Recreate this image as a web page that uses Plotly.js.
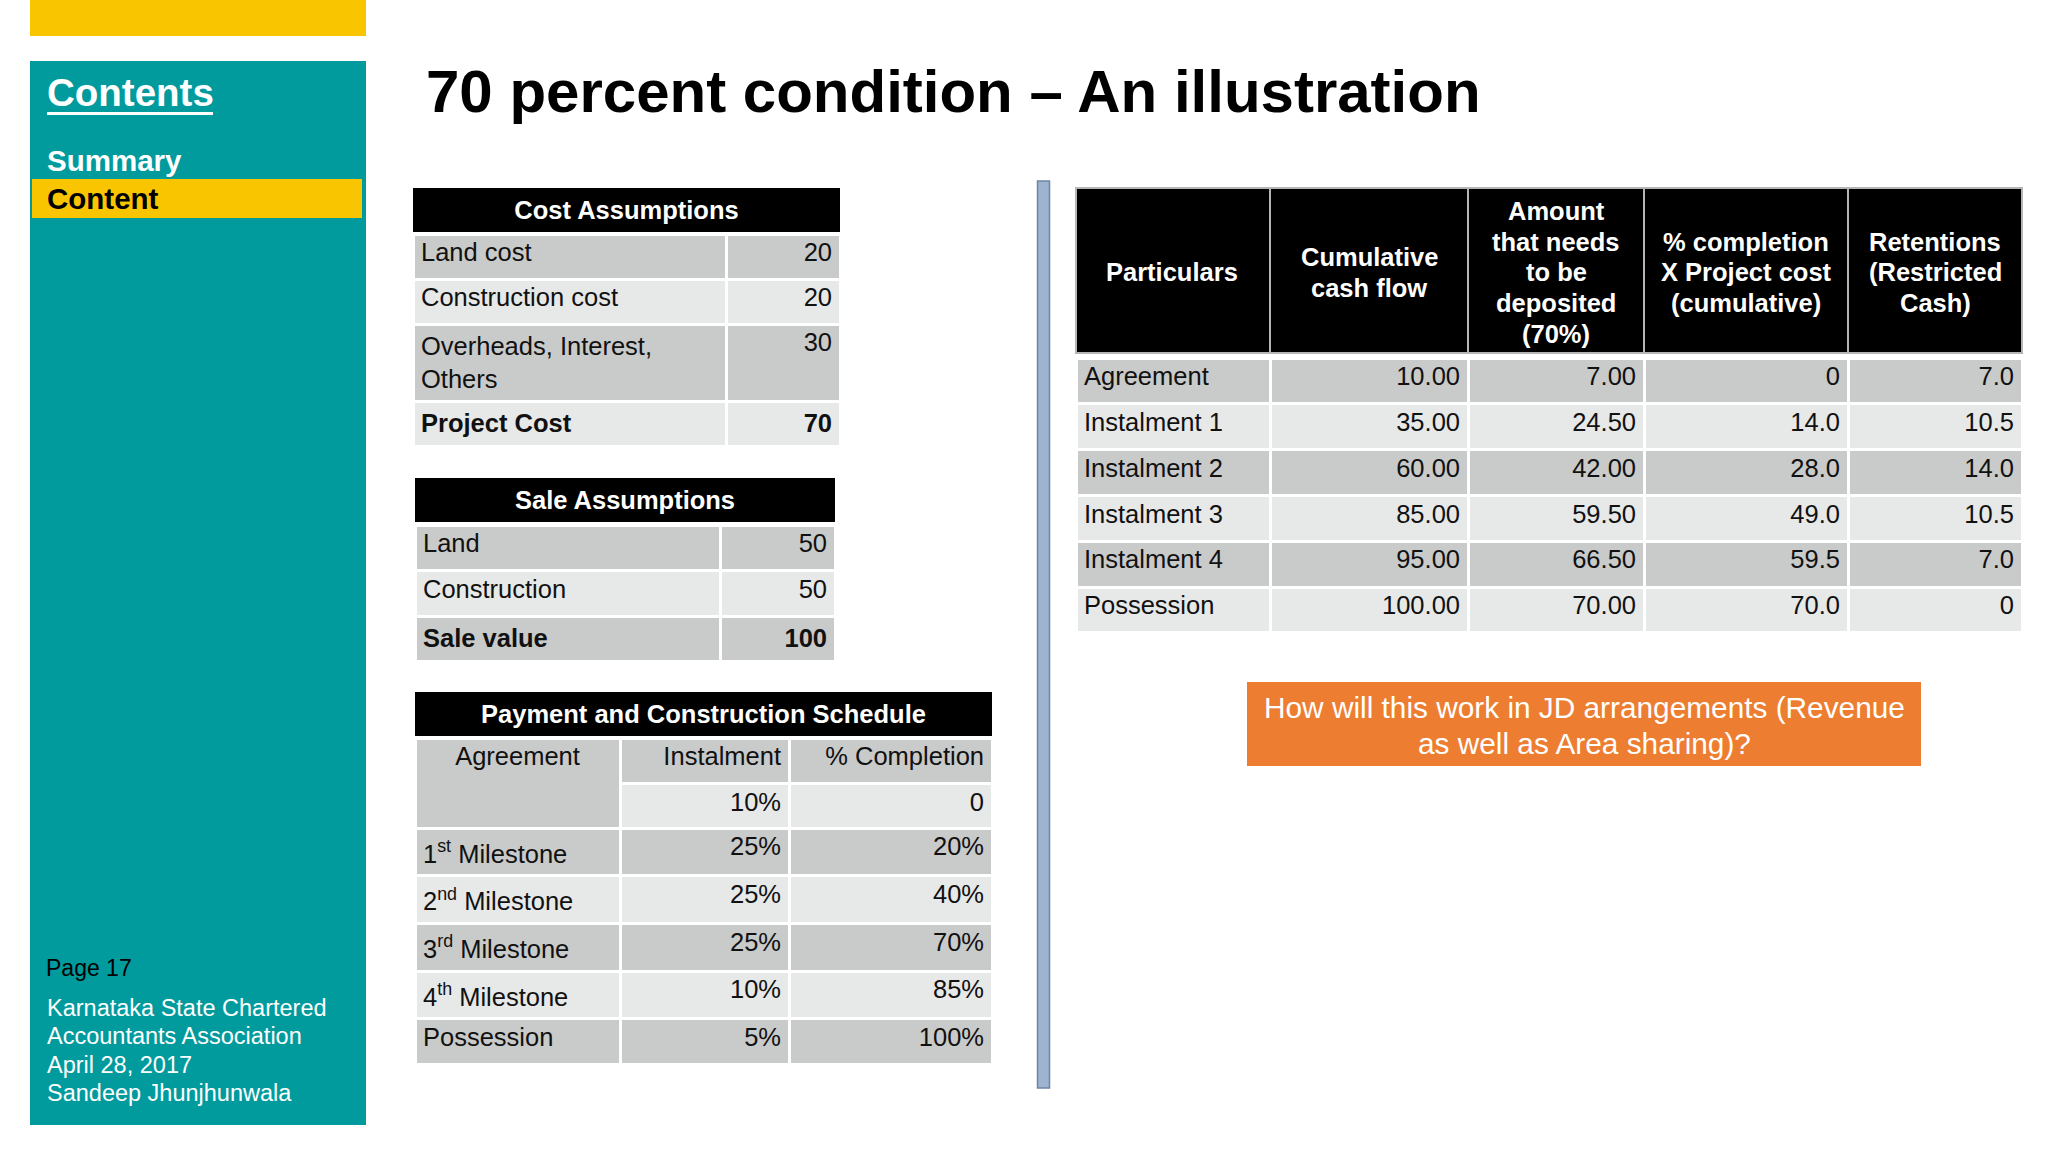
<!DOCTYPE html>
<html><head><meta charset="utf-8">
<script src="https://cdn.plot.ly/plotly-3.0.1.min.js"></script>
<style>html,body{margin:0;padding:0;background:#fff}</style>
</head><body><div id="chart" style="width:2048px;height:1152px"></div>
<script>
const slideTitle = "70 percent condition – An illustration";
const costLabels = ["Land cost","Construction cost","Overheads, Interest,<br>Others","<b>Project Cost</b>"];
const costValues = [20,20,30,70];
const saleLabels = ["Land","Construction","<b>Sale value</b>"];
const saleValues = [50,50,100];
const milestoneLabels = ["1<sup>st</sup> Milestone","2<sup>nd</sup> Milestone","3<sup>rd</sup> Milestone","4<sup>th</sup> Milestone","Possession"];
const milestoneInstalment = [25,25,25,10,5];
const milestoneCompletion = [20,40,70,85,100];
const agreementInstalment = 10;
const agreementCompletion = 0;
const particulars = ["Agreement","Instalment 1","Instalment 2","Instalment 3","Instalment 4","Possession"];
const cumulativeCashFlow = [10,35,60,85,95,100];
const depositAmount = [7,24.5,42,59.5,66.5,70];
const completionCost = [0,14,28,49,59.5,70];
const retentions = [7,10.5,14,10.5,7,0];
const flowHeaders = [["Particulars"],["Cumulative","cash flow"],["Amount","that needs","to be","deposited","(70%)"],["% completion","X Project cost","(cumulative)"],["Retentions","(Restricted","Cash)"]];
const footerLines = ["Karnataka State Chartered","Accountants Association","April 28, 2017","Sandeep Jhunjhunwala"];

const W=2048,H=1152,FONT='"Liberation Sans", Arial, sans-serif';
const DARK='#c9caca',LIGHT='#e7e8e8',INK='#111',CLEAR='rgba(0,0,0,0)';
const fx=p=>p/W, fy=p=>1-p/H;
const oneDec=v=>v===0?'0':v.toFixed(1), twoDec=v=>v.toFixed(2), pct=v=>v+'%', bold=v=>'<b>'+v+'</b>';
const zebra=(n,first)=>Array.from({length:n},(_,i)=>(i%2===0)===first?DARK:LIGHT);

function table(x0,x1,top,bottom,edges,cols,fills,aligns,h,size){
  const widths=edges.slice(1).map((e,i)=>e-edges[i]);
  return {type:'table',domain:{x:[fx(x0),fx(x1)],y:[fy(bottom),fy(top)]},columnwidth:widths,
    header:{values:cols.map(()=>''),height:0,line:{width:0},fill:{color:CLEAR}},
    cells:{values:cols,height:h,align:aligns,fill:{color:cols.map(()=>fills)},
      line:{color:'#ffffff',width:3},font:{family:FONT,size:size||25.5,color:INK}}};
}
function banner(x0,x1,top,bottom,texts,widths,lineColor){
  return {type:'table',domain:{x:[fx(x0),fx(x1)],y:[fy(bottom+6),fy(top)]},columnwidth:widths,
    header:{values:texts,height:bottom-top,align:'center',fill:{color:'#000'},line:{color:lineColor||'#000',width:lineColor?2:0},
      font:{family:FONT,size:25.5,color:'#fff'}},
    cells:{values:texts.map(()=>['']),height:1,fill:{color:CLEAR},line:{width:0}}};
}
const traces=[
  banner(413,840,188,229,['<b>Cost Assumptions</b>']),
  table(413,840,234,470,[413,726,840],[costLabels,costValues.map((v,i)=>i===3?bold(v):v)],[DARK,LIGHT,DARK,LIGHT],['left','right'],45),
  banner(415,835,478,520,['<b>Sale Assumptions</b>']),
  table(415,835,525,680,[415,720,835],[saleLabels,saleValues.map((v,i)=>i===2?bold(v):v)],zebra(3,true),['left','right'],45.5),
  banner(415,992,692,734,['<b>Payment and Construction Schedule</b>']),
  table(415,620,738,830,[415,620],[['Agreement']],[DARK],['center'],91),
  table(620,992,738,830,[620,789,992],[['Instalment',pct(agreementInstalment)],['% Completion',agreementCompletion]],[DARK,LIGHT],['right','right'],45.5),
  table(415,992,828,1075,[415,620,789,992],[milestoneLabels,milestoneInstalment.map(pct),milestoneCompletion.map(pct)],zebra(5,true),['left','right','right'],46),
  banner(1076,2022,188,353,flowHeaders.map(()=>''),[194,198,176,204,174],'#b5b5b5'),
  table(1076,2022,358,650,[1076,1270,1468,1644,1848,2022],[particulars,cumulativeCashFlow.map(twoDec),depositAmount.map(twoDec),completionCost.map(oneDec),retentions.map(oneDec)],zebra(6,true),['left','right','right','right','right'],45.8)
];

const ann=(x,y,text,size,color,opts)=>Object.assign({xref:'paper',yref:'paper',x:fx(x),y:fy(y),text,showarrow:false,xanchor:'left',yanchor:'middle',
  font:{family:FONT,size,color},borderpad:0,borderwidth:0},opts||{});
const annotations=[
  ann(47,93,'<b>Contents</b>',38.5,'#fff'),
  ann(47,161,'<b>Summary</b>',29.5,'#fff'),
  ann(47,198,'<b>Content</b>',29.5,'#000'),
  ann(46,968,'Page 17',23,'#000'),
];
footerLines.forEach((t,i)=>annotations.push(ann(47,1008+i*28.4,t,23.5,'#fff')));
const colCenters=[1172,1369,1556,1746,1935];
flowHeaders.forEach((lines,c)=>lines.forEach((t,i)=>annotations.push(
  ann(colCenters[c],272.5+(i-(lines.length-1)/2)*30.7,'<b>'+t+'</b>',25.5,'#fff',{xanchor:'center'}))));
annotations.push(ann(1584,707,'How will this work in JD arrangements (Revenue',29.8,'#fff',{xanchor:'center'}));
annotations.push(ann(1584,743,'as well as Area sharing)?',29.8,'#fff',{xanchor:'center'}));

const rect=(x0,x1,y0,y1,fill,line)=>({type:'rect',xref:'paper',yref:'paper',x0:fx(x0),x1:fx(x1),y0:fy(y0),y1:fy(y1),fillcolor:fill,line:line||{width:0},layer:'below'});
const shapes=[
  rect(30,366,0,36,'#f8c500'),
  rect(30,366,61,1125,'#019b9e'),
  rect(32,362,179,218,'#f8c500'),
  rect(47,213,112,115,'#fff'),
  rect(1037.5,1049.5,181,1088,'#9db3cf',{color:'#6d86a6',width:1.5}),
  rect(1247,1921,682,766,'#ed7d31')
];
Plotly.newPlot('chart',traces,{
  width:W,height:H,margin:{l:0,r:0,t:0,b:0},paper_bgcolor:'#fff',plot_bgcolor:'#fff',showlegend:false,
  title:{text:'<b>'+slideTitle+'</b>',x:fx(426),xanchor:'left',y:fy(90.5),yanchor:'middle',font:{family:FONT,size:60,color:'#000'}},
  annotations,shapes
},{displayModeBar:false,responsive:false});
</script></body></html>
